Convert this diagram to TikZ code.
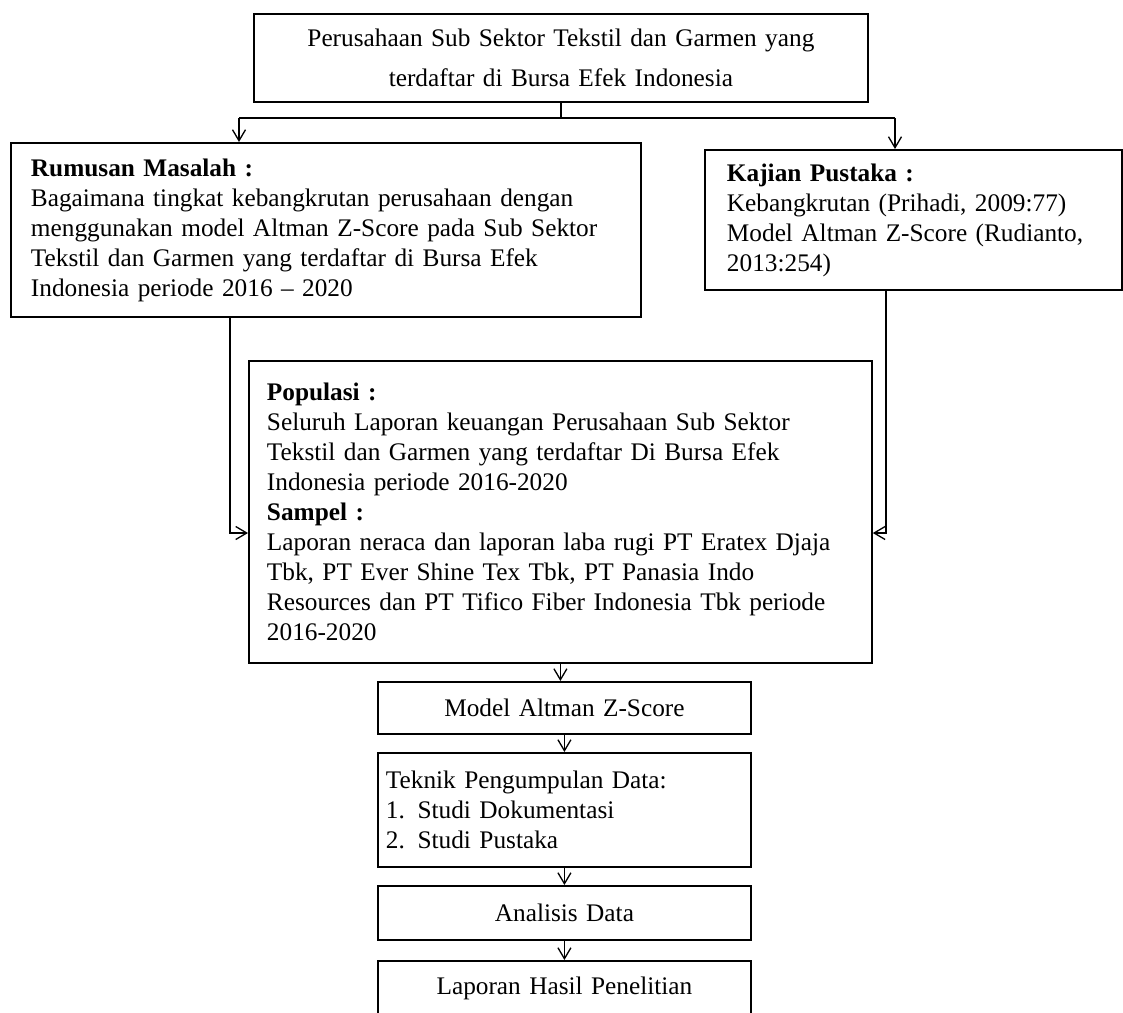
\documentclass[tikz,border=0pt]{standalone}
\usepackage{fontspec}
\setmainfont{Liberation Serif}
\usepackage{tikz}
\usetikzlibrary{arrows.meta}

\begin{document}
\begin{tikzpicture}[x=0.02cm,y=-0.02cm,
kotak/.style={draw,line width=1.1pt,anchor=north west,inner ysep=0pt,font=\fontsize{14.4}{17.07}\selectfont},
garis/.style={line width=0.75pt},
panah/.style={line width=0.75pt,-{Straight Barb[length=0.22cm,width=0.26cm,line width=0.75pt]}}]
\path[use as bounding box,clip] (0,0) rectangle (1123,1012);
\node[kotak,align=center,inner xsep=0.4cm,text width=11.48cm,minimum height=1.76cm,font=\fontsize{14.4}{22.8}\selectfont] (atas) at (253,13)
{Perusahaan Sub Sektor Tekstil dan Garmen yang\\terdaftar di Bursa Efek Indonesia};
\node[kotak,align=left,inner xsep=0.4cm,text width=11.8cm,minimum height=3.48cm] (rum) at (10,142)
{\textbf{Rumusan Masalah :}\\Bagaimana tingkat kebangkrutan perusahaan dengan\\menggunakan model Altman Z-Score pada Sub Sektor\\Tekstil dan Garmen yang terdaftar di Bursa Efek\\Indonesia periode 2016 – 2020};
\node[kotak,align=left,inner xsep=0.44cm,text width=7.46cm,minimum height=2.8cm] (kaj) at (704,149)
{\textbf{Kajian Pustaka :}\\Kebangkrutan (Prihadi, 2009:77)\\Model Altman Z-Score (Rudianto,\\2013:254)};
\node[kotak,align=left,inner xsep=0.36cm,text width=11.74cm,minimum height=6.04cm] (pop) at (248,360)
{\textbf{Populasi :}\\Seluruh Laporan keuangan Perusahaan Sub Sektor\\Tekstil dan Garmen yang terdaftar Di Bursa Efek\\Indonesia periode 2016-2020\\\textbf{Sampel :}\\Laporan neraca dan laporan laba rugi PT Eratex Djaja\\Tbk, PT Ever Shine Tex Tbk, PT Panasia Indo\\Resources dan PT Tifico Fiber Indonesia Tbk periode\\2016-2020};
\node[kotak,align=center,inner xsep=0.16cm,text width=7.14cm,minimum height=1.04cm] (model) at (377,681) {Model Altman Z-Score};
\node[kotak,align=left,inner xsep=0.16cm,text width=7.14cm,minimum height=2.28cm] (teknik) at (377,752)
{Teknik Pengumpulan Data:\\\makebox[1.25em][l]{1.}Studi Dokumentasi\\\makebox[1.25em][l]{2.}Studi Pustaka};
\node[kotak,align=center,inner xsep=0.16cm,text width=7.14cm,minimum height=1.08cm] (analisis) at (377,885) {Analisis Data};
\node[kotak,align=center,inner xsep=0.16cm,text width=7.14cm,minimum height=1.1cm] (laporan) at (377,960) {Laporan Hasil Penelitian};
\coordinate (cabk) at (239,118);
\coordinate (cabn) at (895,118);
\coordinate (belk) at (230,533);
\coordinate (beln) at (886,533);
\draw[garis] (atas.south) -- (atas.south|-cabk);
\draw[garis] (cabk) -- (cabn);
\draw[panah] (cabk) -- (cabk|-rum.north);
\draw[panah] (cabn) -- (cabn|-kaj.north);
\draw[panah] (belk|-rum.south) |- (pop.west|-belk);
\draw[panah] (beln|-kaj.south) |- (pop.east|-beln);
\draw[panah] (pop.south) -- (pop.south|-model.north);
\draw[panah] (model) -- (teknik);
\draw[panah] (teknik) -- (analisis);
\draw[panah] (analisis) -- (laporan);
\end{tikzpicture}
\end{document}
